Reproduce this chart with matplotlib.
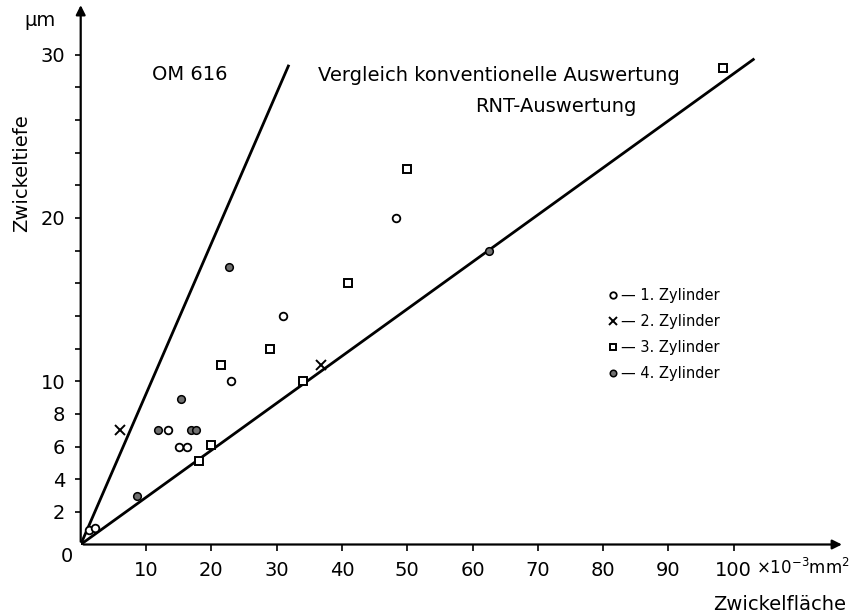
import matplotlib as mpl
mpl.use('Agg')
import matplotlib.pyplot as plt

plt.rcParams['font.family'] = ['DejaVu Sans']

# Zwickelflaeche (1e-3 mm^2) / Zwickeltiefe (um) per cylinder
zyl1_x = [1.3, 2.2, 13.4, 15.0, 16.3, 23.0, 31.0, 48.3]
zyl1_y = [0.9, 1.0, 7.0, 6.0, 6.0, 10.0, 14.0, 20.0]
zyl2_x = [6.0, 36.8]
zyl2_y = [7.0, 11.0]
zyl3_x = [18.1, 20.0, 21.5, 29.0, 34.1, 41.0, 50.0, 98.3]
zyl3_y = [5.1, 6.1, 11.0, 12.0, 10.0, 16.0, 23.0, 29.2]
zyl4_x = [8.6, 11.8, 15.3, 16.9, 17.7, 22.75, 62.5]
zyl4_y = [3.0, 7.0, 8.9, 7.0, 7.0, 17.0, 18.0]

# the two reference lines
om_x = [0, 31.8]
om_y = [0, 29.3]
rnt_x = [0, 103.0]
rnt_y = [0, 29.7]

xticks = [10, 20, 30, 40, 50, 60, 70, 80, 90, 100]
yticks = list(range(2, 31, 2))
ylabels_shown = [2, 4, 6, 8, 10, 20, 30]

fig = plt.figure(figsize=(8.65, 6.16), dpi=100)
ax = fig.add_axes([80.7 / 865, (616 - 544.5) / 616, 783.6 / 865, 543.8 / 616])
ax.set_xlim(0, 120)
ax.set_ylim(0, 33.3)
for s in ax.spines.values():
    s.set_visible(False)

# axes with arrows
ax.annotate('', xy=(117, 0), xytext=(0, 0),
            arrowprops=dict(arrowstyle='-|>', lw=1.6, color='black', mutation_scale=14))
ax.annotate('', xy=(0, 33.2), xytext=(0, 0),
            arrowprops=dict(arrowstyle='-|>', lw=1.6, color='black', mutation_scale=14))

ax.plot(om_x, om_y, color='black', lw=2)
ax.plot(rnt_x, rnt_y, color='black', lw=2)

h1, = ax.plot(zyl1_x, zyl1_y, 'o', ms=5.5, mfc='white', mec='black', mew=1.3, ls='none')
h2, = ax.plot(zyl2_x, zyl2_y, 'x', ms=6.5, color='black', mew=1.4, ls='none')
h3, = ax.plot(zyl3_x, zyl3_y, 's', ms=5.5, mfc='white', mec='black', mew=1.4, ls='none')
h4, = ax.plot(zyl4_x, zyl4_y, 'o', ms=5.5, mfc='#707070', mec='black', mew=1.1, ls='none')

ax.set_xticks(xticks)
ax.set_xticklabels([str(v) for v in xticks])
ax.set_yticks(yticks)
ax.set_yticklabels([str(v) if v in ylabels_shown else '' for v in yticks])
ax.tick_params(axis='both', direction='out', length=4, width=1.2, labelsize=14)
ax.tick_params(axis='x', pad=8)
ax.tick_params(axis='y', pad=7)

leg = ax.legend([h1, h2, h3, h4],
                ['\u2014 1. Zylinder', '\u2014 2. Zylinder', '\u2014 3. Zylinder', '\u2014 4. Zylinder'],
                loc='upper left', bbox_to_anchor=(0.662, 0.485), frameon=False,
                fontsize=10.5, handlelength=0.8, handletextpad=0.2,
                labelspacing=0.75, borderpad=0, markerscale=0.85)

ax.text(16.7, 28.8, 'OM 616', fontsize=14, ha='center', va='center')
ax.text(36.4, 28.75, 'Vergleich konventionelle Auswertung', fontsize=14, ha='left', va='center')
ax.text(72.8, 26.85, 'RNT-Auswertung', fontsize=14, ha='center', va='center')

fig.text(22 / 865, 1 - 173 / 616, 'Zwickeltiefe', rotation=90, fontsize=14, ha='center', va='center')
fig.text(40 / 865, 1 - 20 / 616, '\u00b5m', fontsize=14, ha='center', va='center')
fig.text(780 / 865, 1 - 605 / 616, 'Zwickelfl\u00e4che', fontsize=14, ha='center', va='center')
fig.text(67 / 865, 1 - 557 / 616, '0', fontsize=14, ha='center', va='center')
fig.text(756 / 865, 1 - 568 / 616, r'$\times10^{-3}$mm$^{2}$', fontsize=12, ha='left', va='center')

fig.savefig('out.png', dpi=100)
